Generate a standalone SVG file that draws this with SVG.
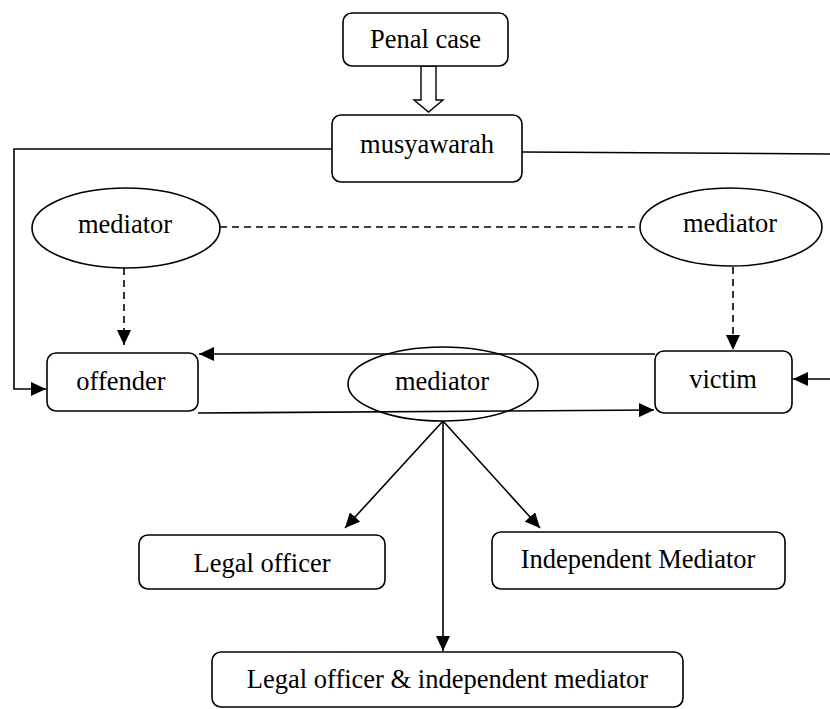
<svg xmlns="http://www.w3.org/2000/svg" width="830" height="709" viewBox="0 0 830 709">
<style>
.box{fill:#fff;stroke:#000;stroke-width:1.6}
.ell{fill:none;stroke:#000;stroke-width:1.6}
.t{font-family:"Liberation Serif","Times New Roman",serif;font-size:26.5px;fill:#000;text-anchor:middle}
.ln{fill:none;stroke:#000;stroke-width:1.6}
.dash{stroke-dasharray:7 5}
</style>
<defs>
<marker id="ah" markerUnits="userSpaceOnUse" markerWidth="16" markerHeight="14" refX="15" refY="7" orient="auto">
<path d="M0,0 L15,7 L0,14 Z" fill="#000"/>
</marker>
</defs>
<g id="connectors">
<polygon points="421,66 436,66 436,100 443,100 428.5,112 414,100 421,100" fill="#fff" stroke="#000" stroke-width="1.4"/>
<polyline class="ln" points="332,149 14,149 14,389 46,389" marker-end="url(#ah)"/>
<line class="ln" x1="522" y1="152" x2="830" y2="154"/>
<line class="ln dash" x1="220" y1="227" x2="640" y2="227"/>
<line class="ln dash" x1="124" y1="268" x2="124" y2="345" marker-end="url(#ah)"/>
<line class="ln dash" x1="733" y1="267" x2="733" y2="350" marker-end="url(#ah)"/>
<line class="ln" x1="655" y1="354" x2="199" y2="354" marker-end="url(#ah)"/>
<line class="ln" x1="198" y1="413" x2="654" y2="410" marker-end="url(#ah)"/>
<line class="ln" x1="830" y1="379" x2="793" y2="379" marker-end="url(#ah)"/>
<line class="ln" x1="443" y1="421" x2="345" y2="528" marker-end="url(#ah)"/>
<line class="ln" x1="443" y1="421" x2="540" y2="528" marker-end="url(#ah)"/>
<line class="ln" x1="443" y1="421" x2="443" y2="651" marker-end="url(#ah)"/>
</g>
<g id="penal-case">
<rect class="box" x="343" y="13" width="165" height="53" rx="9"/>
<text class="t" x="425.5" y="48">Penal case</text>
</g>
<g id="musyawarah">
<rect class="box" x="332" y="115" width="190" height="67" rx="9"/>
<text class="t" x="427" y="153">musyawarah</text>
</g>
<g id="mediator-left">
<ellipse class="ell" cx="126" cy="228" rx="94" ry="40"/>
<text class="t" x="125" y="233">mediator</text>
</g>
<g id="mediator-right">
<ellipse class="ell" cx="731" cy="227" rx="91" ry="39"/>
<text class="t" x="730" y="232">mediator</text>
</g>
<g id="offender">
<rect class="box" x="47" y="353" width="151" height="58" rx="9"/>
<text class="t" x="121" y="390">offender</text>
</g>
<g id="victim">
<rect class="box" x="655" y="351" width="137" height="62" rx="9"/>
<text class="t" x="723" y="388">victim</text>
</g>
<g id="mediator-center">
<ellipse class="ell" cx="443" cy="384" rx="95" ry="37"/>
<text class="t" x="442" y="390">mediator</text>
</g>
<g id="legal-officer">
<rect class="box" x="139" y="535" width="246" height="54" rx="9"/>
<text class="t" x="262" y="572">Legal officer</text>
</g>
<g id="independent-mediator">
<rect class="box" x="492" y="532" width="293" height="57" rx="9"/>
<text class="t" x="638" y="568">Independent Mediator</text>
</g>
<g id="legal-officer-independent">
<rect class="box" x="212" y="652" width="471" height="55" rx="9"/>
<text class="t" x="447.5" y="688">Legal officer &amp; independent mediator</text>
</g>
</svg>
